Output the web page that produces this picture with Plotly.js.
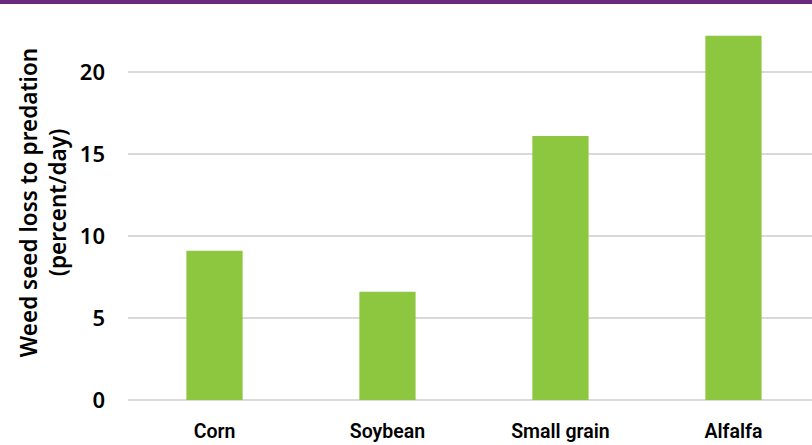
<!DOCTYPE html>
<html>
<head>
<meta charset="utf-8">
<script src="https://cdn.plot.ly/plotly-3.0.1.min.js"></script>
<style>
html,body{margin:0;padding:0;background:#fff;overflow:hidden;}
#topbar{position:absolute;left:0;top:0;width:812px;height:4px;background:#6B2A7E;z-index:10;}
#chart{width:812px;height:445px;}
</style>
</head>
<body>
<div id="topbar"></div>
<div id="chart"></div>
<script>
const categories = ["Corn", "Soybean", "Small grain", "Alfalfa"];
const seedLoss = [9.1, 6.6, 16.1, 22.2];
const yTicks = [0, 5, 10, 15, 20];

const trace = {
  type: "bar",
  x: categories,
  y: seedLoss,
  marker: {color: "#8DC63F"},
  hoverinfo: "x+y"
};

const layout = {
  width: 812,
  height: 445,
  margin: {l: 128, r: 0, t: 5, b: 45},
  paper_bgcolor: "#ffffff",
  plot_bgcolor: "#ffffff",
  bargap: 0.675,
  showlegend: false,
  font: {family: "Noto Sans, Open Sans, sans-serif", color: "#000"},
  xaxis: {
    range: [-0.5, 3.454],
    showgrid: false,
    showline: false,
    zeroline: false,
    ticks: "",
    ticklabelstandoff: 17,
    tickfont: {family: "Roboto, sans-serif", size: 19.5, weight: 600, color: "#000"}
  },
  yaxis: {
    range: [0, 24.08],
    tickvals: yTicks,
    ticktext: yTicks.map(String),
    showgrid: true,
    gridcolor: "#d9d9d9",
    gridwidth: 2,
    zeroline: true,
    zerolinecolor: "#d9d9d9",
    zerolinewidth: 2,
    showline: false,
    ticks: "",
    ticklabelstandoff: 22,
    tickfont: {family: "Noto Sans, sans-serif", size: 22, weight: 600, color: "#000"},
    title: {
      text: "Weed seed loss to predation<br>(percent/day)",
      font: {family: "Noto Sans, sans-serif", size: 22.5, weight: 600, color: "#000"},
      standoff: 6
    }
  }
};

Plotly.newPlot("chart", [trace], layout, {displayModeBar: false, staticPlot: true});
</script>
</body>
</html>
